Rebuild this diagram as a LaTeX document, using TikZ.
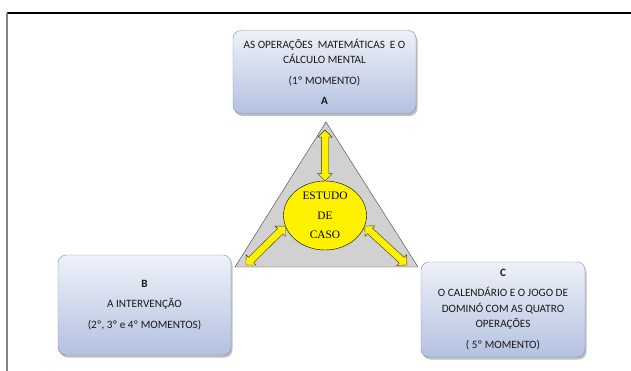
\documentclass[tikz,border=0pt]{standalone}
\usepackage{fontspec}
\setmainfont{Carlito}
\newfontfamily\timesfont{Liberation Serif}
\usetikzlibrary{shapes.geometric,shapes.arrows,shadows,calc}

\definecolor{boxtop}{HTML}{EEF1F8}
\definecolor{boxbot}{HTML}{B4C1E0}
\definecolor{boxline}{HTML}{8090AC}

\tikzset{
  momento/.style={rounded corners=8pt, draw=boxline, top color=boxtop, bottom color=boxbot,
    align=center, text=black!90, font=\fontsize{11.2}{15.5}\selectfont,
    drop shadow={shadow xshift=1.5pt, shadow yshift=-2.5pt, opacity=.5}},
  setadupla/.style={double arrow, draw=black!80, fill=yellow, inner sep=3.5pt,
    double arrow head extend=3.5pt, thin}
}

\begin{document}
\begin{tikzpicture}[x=1pt,y=-1pt]
  \useasboundingbox (0,0) rectangle (631,371);
  % moldura
  \draw[line width=1.4pt] (7,13) -- (631,13);
  \draw[line width=1.4pt,gray] (7,13) -- (7,371);
  % caixas
  \node[momento, minimum width=183, minimum height=83] (A) at (324.5,72)
    {AS OPERAÇÕES\ \ MATEMÁTICAS\ \ E O\\CÁLCULO MENTAL\\[5pt](1º MOMENTO)\\[5pt]\textbf{A}};
  \node[momento, minimum width=173, minimum height=100] (B) at (144.5,305)
    {\textbf{B}\\[5pt]A INTERVENÇÃO\\[5pt](2º, 3º e 4º MOMENTOS)};
  \node[momento, minimum width=164, minimum height=95] (C) at (503,309.5)
    {\textbf{C}\\[5pt]O CALENDÁRIO E O JOGO DE\\DOMINÓ COM AS QUATRO\\OPERAÇÕES\\[5pt]( 5º MOMENTO)};
  % triangulo
  \coordinate (ta) at (326,122);
  \coordinate (tb) at (235,267);
  \coordinate (tc) at (418,267);
  \draw[fill=black!18, draw=black!75] (ta) -- (tc) -- (tb) -- cycle;
  \node[ellipse, draw, fill=yellow, minimum width=83, minimum height=69, inner sep=0,
    align=center, font=\timesfont\fontsize{11.4}{19.5}\selectfont] (caso) at (325,215.5)
    {ESTUDO\\DE\\CASO};
  % setas
  \coordinate (pa) at (325,130);
  \coordinate (pb) at (246,265);
  \coordinate (pc) at (407,265);
  \foreach \a/\b in {caso.north/pa, caso.195/pb, caso.345/pc}
    \path let \p1=($(\b)-(\a)$), \n1={veclen(\x1,\y1)} in
      (\a) -- (\b) node[midway, sloped, setadupla, minimum height=\n1] {};
\end{tikzpicture}
\end{document}
